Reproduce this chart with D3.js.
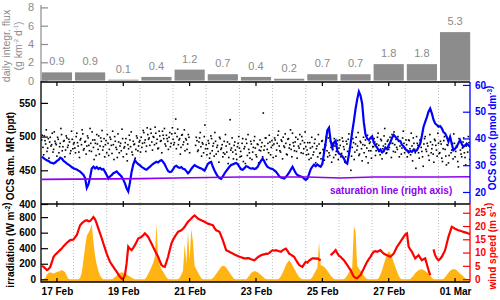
<!DOCTYPE html>
<html><head><meta charset="utf-8">
<script src="https://cdn.jsdelivr.net/npm/d3@7"></script>
<style>
body{margin:0;background:#fff}
svg{display:block;font-family:"Liberation Sans",Arial,Helvetica,sans-serif}
</style></head><body>
<svg id="c" width="500" height="300"></svg>
<script>
// ---------- DATA (time in days since 17 Feb) ----------
const dayTicks = [0, 2, 4, 6, 8, 10, 12];
const dayLabels = ["17 Feb", "19 Feb", "21 Feb", "23 Feb", "25 Feb", "27 Feb", "01 Mar"];
const gridDays = [0.5, 1.5, 2.5, 3.5, 4.5, 5.5, 6.5, 7.5, 8.5, 9.5, 10.5, 11.5];

const fluxDays = [0, 1, 2, 3, 4, 5, 6, 7, 8, 9, 10, 11, 12];
const fluxValues = [0.9, 0.9, 0.1, 0.4, 1.2, 0.7, 0.4, 0.2, 0.7, 0.7, 1.8, 1.8, 5.3];
const fluxTicks = [0, 2, 4, 6, 8];

const atmTicks = [400, 450, 500, 550];
const concTicks = [20, 30, 40, 50, 60];
const irrTicks = [0, 200, 400, 600, 800];
const windTicks = [0, 5, 10, 15, 20, 25];

// OCS atmospheric mixing ratio (ppt): two interleaved sample sets, every 0.04 d
const atmStartA = -0.46, atmStartB = -0.44, atmStep = 0.04;
const atmValuesA = [
 495,484,501,489,478,497,492,486,505,481,493,488,499,476,490,503,485,494,480,498,487,492,479,496,489,
 483,500,491,477,495,488,504,482,493,486,498,479,490,507,484,495,472,489,501,486,493,480,497,488,476,
 490,481,496,475,488,500,484,469,492,486,479,497,483,491,474,488,502,485,477,493,489,481,498,486,494,
 499,490,506,495,486,503,498,511,492,500,488,505,496,483,501,494,508,497,489,502,493,499,485,504,496,
 491,526,500,488,497,484,503,492,479,495,489,499,null,null,null,null,487,494,480,498,485,491,476,517,488,
 482,490,475,497,486,471,493,484,478,499,481,488,476,474,486,492,469,525,483,477,487,480,466,490,483,
 478,490,463,485,496,472,481,468,489,477,494,483,470,488,480,479,491,535,486,498,481,476,492,484,487,
 489,495,480,502,486,477,493,499,484,490,473,497,488,481,505,486,492,478,496,483,489,500,475,491,485,
 480,474,491,468,485,477,496,482,470,489,476,493,481,465,487,479,498,472,484,490,469,486,478,494,483,
 487,475,493,481,470,489,496,478,450,484,491,477,499,486,472,493,482,488,476,495,483,461,490,479,497,
 485,492,479,499,487,473,494,482,501,489,476,495,484,490,503,478,488,496,481,493,486,474,498,490,483,
 488,479,494,473,486,498,481,453,490,476,495,484,470,489,500,478,486,465,492,482,474,496,487,471,490,
 476,489,463,494,481,458,487,472,496,480,467,490,478,485,455,492,474,483,498,469,486,477,491,480,484
];
const atmValuesB = [
 502,473,494,510,483,468,499,488,477,507,490,471,496,485,512,479,493,470,501,484,496,475,508,482,491,
 476,505,486,469,497,510,480,492,474,501,487,512,478,495,466,490,503,481,474,498,509,485,470,494,503,
 472,499,487,508,466,493,481,504,476,490,511,470,485,497,464,482,495,507,473,488,468,501,479,492,477,
 484,509,491,478,513,496,487,505,480,499,514,490,482,508,493,476,502,512,486,497,481,506,490,513,488,
 505,482,511,495,474,502,488,510,497,481,503,476,null,null,null,null,499,478,492,506,471,489,500,482,473,
 494,468,501,479,490,506,474,487,462,497,483,470,493,503,477,460,489,480,498,467,492,474,485,500,470,
 471,497,482,460,490,503,476,493,466,484,500,473,489,461,495,485,470,480,498,466,490,502,473,494,469,
 498,471,490,508,479,495,467,486,504,474,496,483,510,470,491,479,499,468,486,503,476,494,482,507,473,
 491,466,483,499,473,490,461,486,503,475,467,494,479,488,500,470,476,493,462,481,497,473,489,466,495,
 470,498,485,462,493,478,504,484,471,497,466,489,480,506,474,491,464,499,487,470,502,479,492,468,485,
 497,472,489,505,478,496,467,486,512,475,493,481,499,469,490,507,477,484,500,470,492,483,508,476,495,
 470,495,482,505,464,490,476,500,487,468,492,478,456,497,481,490,472,503,476,488,462,494,480,505,475,
 493,468,482,500,471,488,461,495,476,490,504,470,486,463,497,480,470,492,476,458,489,500,466,484,473
];

// shared time grid for seawater / meteo series: every 0.05 d from -0.45 d
const gridStart = -0.45, gridStep = 0.05;

// OCS seawater concentration (pmol dm-3)
const concValues = [
 33.2,32.6,32.2,31.8,31.6,31.0,30.9,30.6,31.0,31.6,32.0,32.8,32.5,31.6,31.2,30.6,30.2,29.8,29.2,28.9,
 28.6,28.4,28.0,27.6,27.0,26.4,25.2,21.5,22.8,25.5,28.8,29.5,28.8,29.3,28.6,29.0,28.4,28.6,27.5,26.3,
 25.0,25.8,26.3,27.0,27.3,27.7,27.0,26.4,25.7,24.6,23.2,21.4,20.2,23.5,27.5,30.2,31.9,31.0,30.4,30.0,
 29.4,29.0,28.6,28.3,28.9,29.4,30.0,30.5,30.9,31.3,31.0,31.6,31.9,31.2,30.3,29.0,27.8,27.4,27.6,28.4,
 29.5,29.8,29.2,29.0,29.3,28.7,28.5,27.8,27.0,27.6,28.6,29.4,30.0,29.6,29.3,29.0,28.8,28.4,28.0,29.2,
 30.5,31.0,31.2,29.4,28.0,26.8,25.8,25.2,24.9,25.8,26.9,27.8,28.6,29.4,30.1,30.3,30.6,30.8,30.4,29.4,
 28.5,28.3,28.9,29.6,29.4,29.0,28.7,28.9,28.6,28.8,29.4,30.6,31.6,32.5,31.5,30.2,29.4,29.0,28.7,28.6,
 28.1,27.6,26.8,25.8,25.4,25.2,25.0,25.6,26.4,27.3,28.4,29.4,28.2,27.0,26.3,26.0,25.8,25.6,25.0,24.5,
 25.0,26.8,28.5,29.5,30.2,29.6,30.3,29.8,29.4,30.5,34.5,38.5,43.0,44.0,39.0,36.5,38.5,39.2,35.5,34.4,
 34.0,33.4,32.5,31.0,30.6,34.0,38.0,42.5,46.5,51.0,54.6,57.5,56.0,53.0,46.0,41.5,40.0,39.4,40.2,40.8,
 38.5,37.4,36.6,35.4,35.9,34.8,35.2,36.6,36.0,37.5,38.6,40.2,41.3,40.6,40.0,39.2,39.0,37.6,37.0,36.0,
 35.6,34.8,35.3,35.0,35.8,35.2,35.6,36.8,38.1,41.0,44.4,46.2,48.0,50.0,51.2,49.4,47.0,45.6,45.0,44.4,
 44.6,43.8,42.4,41.9,40.6,38.8,40.6,38.0,35.6,36.2,36.9,38.2,39.4,38.0,36.9,37.4,38.1,37.5,37.0,37.5
];

// saturation line (pmol dm-3), every 1 d from -0.45 d
const satStart = -0.45, satStep = 1;
const satValues = [24.7, 24.8, 24.9, 25.0, 25.2, 25.4, 25.6, 25.6, 25.6, 25.2, 25.6, 25.6, 25.6, 25.7];

// wind speed (m s-1)
const windValues = [
 5.0,4.6,4.0,3.4,3.8,4.6,6.5,8.4,9.2,9.8,10.4,11.0,11.6,12.4,13.0,13.7,14.2,14.7,14.8,14.9,
 15.8,16.6,18.5,20.3,21.0,21.6,22.0,22.2,21.8,21.9,22.6,23.4,22.5,20.9,19.0,17.2,15.4,13.4,11.5,9.6,
 8.0,6.5,5.5,4.6,3.7,2.8,1.8,0.9,0.2,0.3,1.5,5.9,12.2,11.4,10.9,11.8,12.8,14.0,15.3,15.6,
 15.9,16.5,17.2,16.6,15.9,14.6,13.4,12.1,10.9,9.6,8.4,6.8,5.3,4.8,4.6,6.4,8.4,11.0,13.4,14.8,
 15.9,16.9,17.8,18.1,18.4,19.0,19.7,20.7,21.6,22.2,22.8,23.5,24.0,23.4,22.8,22.5,22.2,21.9,21.6,21.2,
 20.9,20.7,20.5,20.3,19.2,18.4,18.1,17.8,16.3,14.7,12.8,10.9,10.6,10.3,9.9,9.6,9.3,9.0,8.7,8.4,
 8.2,8.0,7.8,7.8,7.9,7.8,7.5,7.3,7.1,7.6,8.2,8.6,9.0,9.2,9.3,9.6,9.5,9.9,10.4,10.9,
 10.7,10.9,10.7,10.5,10.3,10.8,11.2,11.5,10.6,9.6,9.2,8.8,8.4,7.3,6.3,5.3,4.9,4.6,5.6,6.5,
 6.2,7.0,7.4,7.8,7.8,7.7,7.8,7.4,7.1,null,null,null,null,null,9.0,9.6,10.2,10.9,9.8,8.8,
 8.4,7.7,7.1,6.2,5.3,4.3,3.4,2.1,0.9,0.5,0.3,1.0,1.5,2.8,4.0,5.3,6.5,7.5,8.4,9.5,
 10.3,10.5,10.3,10.6,10.9,10.2,9.6,9.3,9.0,8.7,8.4,9.0,9.6,10.9,12.2,13.1,14.0,15.0,15.9,16.8,
 17.2,12.2,11.2,10.3,9.0,7.8,8.4,9.0,8.0,7.1,7.5,7.8,5.6,3.4,1.5,null,11.2,9.0,7.8,7.1,
 7.6,8.4,9.6,10.9,13.4,15.9,17.8,19.7,19.4,19.0,18.7,18.4,18.2,18.0,17.8,17.6,17.4,17.2,17.0,17.2
];

// irradiation (W m-2)
const irrValues = [
 0,0,20,60,85,90,80,75,85,95,100,110,120,105,90,40,5,0,0,0,
 0,0,0,20,90,250,420,560,600,640,710,480,300,190,110,50,15,0,0,0,
 0,0,0,10,30,50,70,80,90,85,70,60,50,35,20,10,0,0,0,0,
 0,0,0,30,70,110,160,210,290,720,260,180,130,100,60,25,5,0,0,0,
 0,0,0,20,60,110,450,200,610,250,650,480,170,130,90,50,15,0,0,0,
 0,0,0,15,40,70,100,130,160,175,170,150,120,90,55,25,5,0,0,0,
 0,0,0,0,20,50,80,95,105,100,90,75,55,35,15,5,0,0,0,0,
 0,0,0,10,40,80,130,180,220,245,215,180,140,100,60,30,10,0,0,0,
 0,0,5,30,70,110,150,480,180,175,160,140,110,80,50,25,5,0,0,0,
 0,0,0,20,50,90,120,150,680,620,170,140,110,80,50,20,5,0,0,0,
 0,0,0,15,60,120,190,260,320,360,340,280,220,160,100,45,10,0,0,0,
 0,0,5,25,50,80,100,115,125,130,120,105,90,70,45,20,5,0,0,0,
 0,0,5,25,55,85,110,125,130,128,115,95,75,55,35,15,5,0,0,0
];

// ---------- CHART ----------
const svg = d3.select("#c");
const L = 41, R = 470;
const x = d3.scaleLinear().domain([-0.48, 12.45]).range([L, R]);
const yFlux = d3.scaleLinear().domain([0, 8]).range([80.6, 7.4]);
const yAtm = d3.scaleLinear().domain([400, 581]).range([204, 82]);
const yConc = d3.scaleLinear().domain([15.5, 61.1]).range([204, 82]);
const yIrr = d3.scaleLinear().domain([-35, 969]).range([282, 204]);
const yWind = d3.scaleLinear().domain([-1.1, 28.3]).range([282, 204]);

const gray = "#8c8c8c", blue = "#0000ff", red = "#ff0000", purple = "#8f00f0", orange = "#ffb414";

const defs = svg.append("defs");
defs.append("clipPath").attr("id", "cm").append("rect").attr("x", L).attr("y", 82).attr("width", R - L).attr("height", 122);
defs.append("clipPath").attr("id", "cb").append("rect").attr("x", L).attr("y", 204).attr("width", R - L).attr("height", 78);

// ----- top panel: daily flux bars -----
const topG = svg.append("g");
topG.selectAll("rect").data(fluxValues).join("rect")
  .attr("x", (d, i) => x(fluxDays[i] - 0.5) + 1.5)
  .attr("width", (d, i) => x(fluxDays[i] + 0.5) - x(fluxDays[i] - 0.5) - 3)
  .attr("y", d => yFlux(d))
  .attr("height", d => yFlux(0) - yFlux(d))
  .attr("fill", gray);
topG.selectAll("text.bl").data(fluxValues).join("text").attr("class", "bl")
  .attr("x", (d, i) => x(fluxDays[i]))
  .attr("y", d => yFlux(d) - 7)
  .attr("text-anchor", "middle").attr("font-size", 11).attr("fill", "#8a8a8a")
  .text(d => d.toFixed(1));
const fAxis = svg.append("g").attr("transform", `translate(${L},0)`)
  .call(d3.axisLeft(yFlux).tickValues(fluxTicks).tickSize(-7).tickPadding(7).tickFormat(d3.format("d")));
fAxis.select(".domain").attr("d", `M0,5V82`).attr("stroke", gray).attr("stroke-width", 1.2);
fAxis.selectAll(".tick line").attr("stroke", gray).attr("stroke-width", 1.2);
fAxis.selectAll(".tick text").attr("fill", "#8a8a8a").attr("font-size", 11).attr("font-family", null);
const fl = svg.append("text").attr("transform", "translate(10,46) rotate(-90)").attr("text-anchor", "middle")
  .attr("font-size", 10.5).attr("fill", "#8a8a8a");
fl.text("daily integr. flux");
const fl2 = svg.append("text").attr("transform", "translate(22,46) rotate(-90)").attr("text-anchor", "middle")
  .attr("font-size", 10.5).attr("fill", "#8a8a8a");
fl2.append("tspan").text("(g km");
fl2.append("tspan").attr("dy", -4).attr("font-size", 6).text("-2");
fl2.append("tspan").attr("dy", 4).text(" d");
fl2.append("tspan").attr("dy", -4).attr("font-size", 6).text("-1");
fl2.append("tspan").attr("dy", 4).text(")");

// ----- grid lines -----
svg.append("g").selectAll("line").data(gridDays).join("line")
  .attr("x1", d => x(d)).attr("x2", d => x(d)).attr("y1", 82).attr("y2", 282)
  .attr("stroke", "#bdbdbd").attr("stroke-width", 1).attr("stroke-dasharray", "1,2");

// ----- middle panel -----
const mid = svg.append("g").attr("clip-path", "url(#cm)");
const atmPts = atmValuesA.map((v, i) => ({ t: atmStartA + i * atmStep, v }))
  .concat(atmValuesB.map((v, i) => ({ t: atmStartB + i * atmStep, v })))
  .filter(d => d.v != null);
mid.selectAll("rect").data(atmPts).join("rect")
  .attr("x", d => x(d.t) - 0.8).attr("y", d => yAtm(d.v) - 0.8)
  .attr("width", 1.6).attr("height", 1.6).attr("fill", "#000");
const concPts = concValues.map((v, i) => ({ t: gridStart + i * gridStep, v }));
mid.append("path").datum(concPts)
  .attr("d", d3.line().defined(d => d.v != null).x(d => x(d.t)).y(d => yConc(d.v)))
  .attr("fill", "none").attr("stroke", blue).attr("stroke-width", 2.2);
const satPts = satValues.map((v, i) => ({ t: satStart + i * satStep, v }));
mid.append("path").datum(satPts)
  .attr("d", d3.line().x(d => x(d.t)).y(d => yConc(d.v)))
  .attr("fill", "none").attr("stroke", purple).attr("stroke-width", 1.6);
svg.append("text").attr("x", 330).attr("y", 194).attr("font-size", 10).attr("font-weight", "bold")
  .attr("fill", purple).text("saturation line (right axis)");

// ----- bottom panel -----
const bot = svg.append("g").attr("clip-path", "url(#cb)");
const irrPts = irrValues.map((v, i) => ({ t: gridStart + i * gridStep, v }));
bot.append("path").datum(irrPts)
  .attr("d", d3.area().x(d => x(d.t)).y0(282).y1(d => yIrr(d.v)))
  .attr("fill", orange);
const windPts = windValues.map((v, i) => ({ t: gridStart + i * gridStep, v }));
bot.append("path").datum(windPts)
  .attr("d", d3.line().defined(d => d.v != null).x(d => x(d.t)).y(d => yWind(d.v)))
  .attr("fill", "none").attr("stroke", red).attr("stroke-width", 2.2);

// ----- frames / axes -----
function styleAxis(g, color) {
  g.select(".domain").remove();
  g.selectAll(".tick line").attr("stroke", color).attr("stroke-width", 1.2);
  g.selectAll(".tick text").attr("fill", color).attr("font-size", 10).attr("font-weight", "bold").attr("font-family", null);
}
styleAxis(svg.append("g").attr("transform", `translate(${L},0)`)
  .call(d3.axisLeft(yAtm).tickValues(atmTicks).tickSize(-7).tickPadding(5)), "#000");
styleAxis(svg.append("g").attr("transform", `translate(${L},0)`)
  .call(d3.axisLeft(yIrr).tickValues(irrTicks).tickSize(-7).tickPadding(5)), "#000");
styleAxis(svg.append("g").attr("transform", `translate(${R},0)`)
  .call(d3.axisRight(yConc).tickValues(concTicks).tickSize(-7).tickPadding(5)), blue);
styleAxis(svg.append("g").attr("transform", `translate(${R},0)`)
  .call(d3.axisRight(yWind).tickValues(windTicks).tickSize(-7).tickPadding(5)), red);

// x ticks on panel borders
[[82, 4], [204, -3], [204, 3], [282, -4]].forEach(([yy, len]) => {
  svg.append("g").selectAll("line").data(dayTicks).join("line")
    .attr("x1", d => x(d)).attr("x2", d => x(d)).attr("y1", yy).attr("y2", yy + len)
    .attr("stroke", "#000").attr("stroke-width", 1.2);
});
const xAx = svg.append("g").attr("transform", "translate(0,282)")
  .call(d3.axisBottom(x).tickValues(dayTicks).tickSize(0).tickPadding(6).tickFormat((d, i) => dayLabels[i]));
xAx.select(".domain").remove();
xAx.selectAll(".tick text").attr("font-size", 10).attr("font-weight", "bold").attr("font-family", null).attr("fill", "#000");

const fr = svg.append("g").attr("fill", "none").attr("stroke-width", 1.3);
fr.append("path").attr("d", `M${L},204V82H${R}`).attr("stroke", "#000");
fr.append("path").attr("d", `M${L},204H${R}`).attr("stroke", "#000");
fr.append("path").attr("d", `M${L},204V282H${R}`).attr("stroke", "#000");
fr.append("path").attr("d", `M${R},82V204`).attr("stroke", blue);
fr.append("path").attr("d", `M${R},204V282`).attr("stroke", red);

// axis titles
function title(xx, yy, color, parts) {
  const t = svg.append("text").attr("transform", `translate(${xx},${yy}) rotate(-90)`)
    .attr("text-anchor", "middle").attr("font-size", 10).attr("font-weight", "bold").attr("fill", color);
  parts.forEach(p => {
    if (p.sup) { t.append("tspan").attr("dy", -4).attr("font-size", 6.5).text(p.sup); t.append("tspan").attr("dy", 4).text(""); }
    else t.append("tspan").text(p.s);
  });
}
title(14, 156, "#000", [{ s: "OCS atm. MR (ppt)" }]);
title(14, 245, "#000", [{ s: "irradiation (W m" }, { sup: "-2" }, { s: ")" }]);
title(496, 138, blue, [{ s: "OCS conc (pmol dm" }, { sup: "-3" }, { s: ")" }]);
title(496, 246, red, [{ s: "wind speed (m s" }, { sup: "-1" }, { s: ")" }]);
</script>
</body></html>
